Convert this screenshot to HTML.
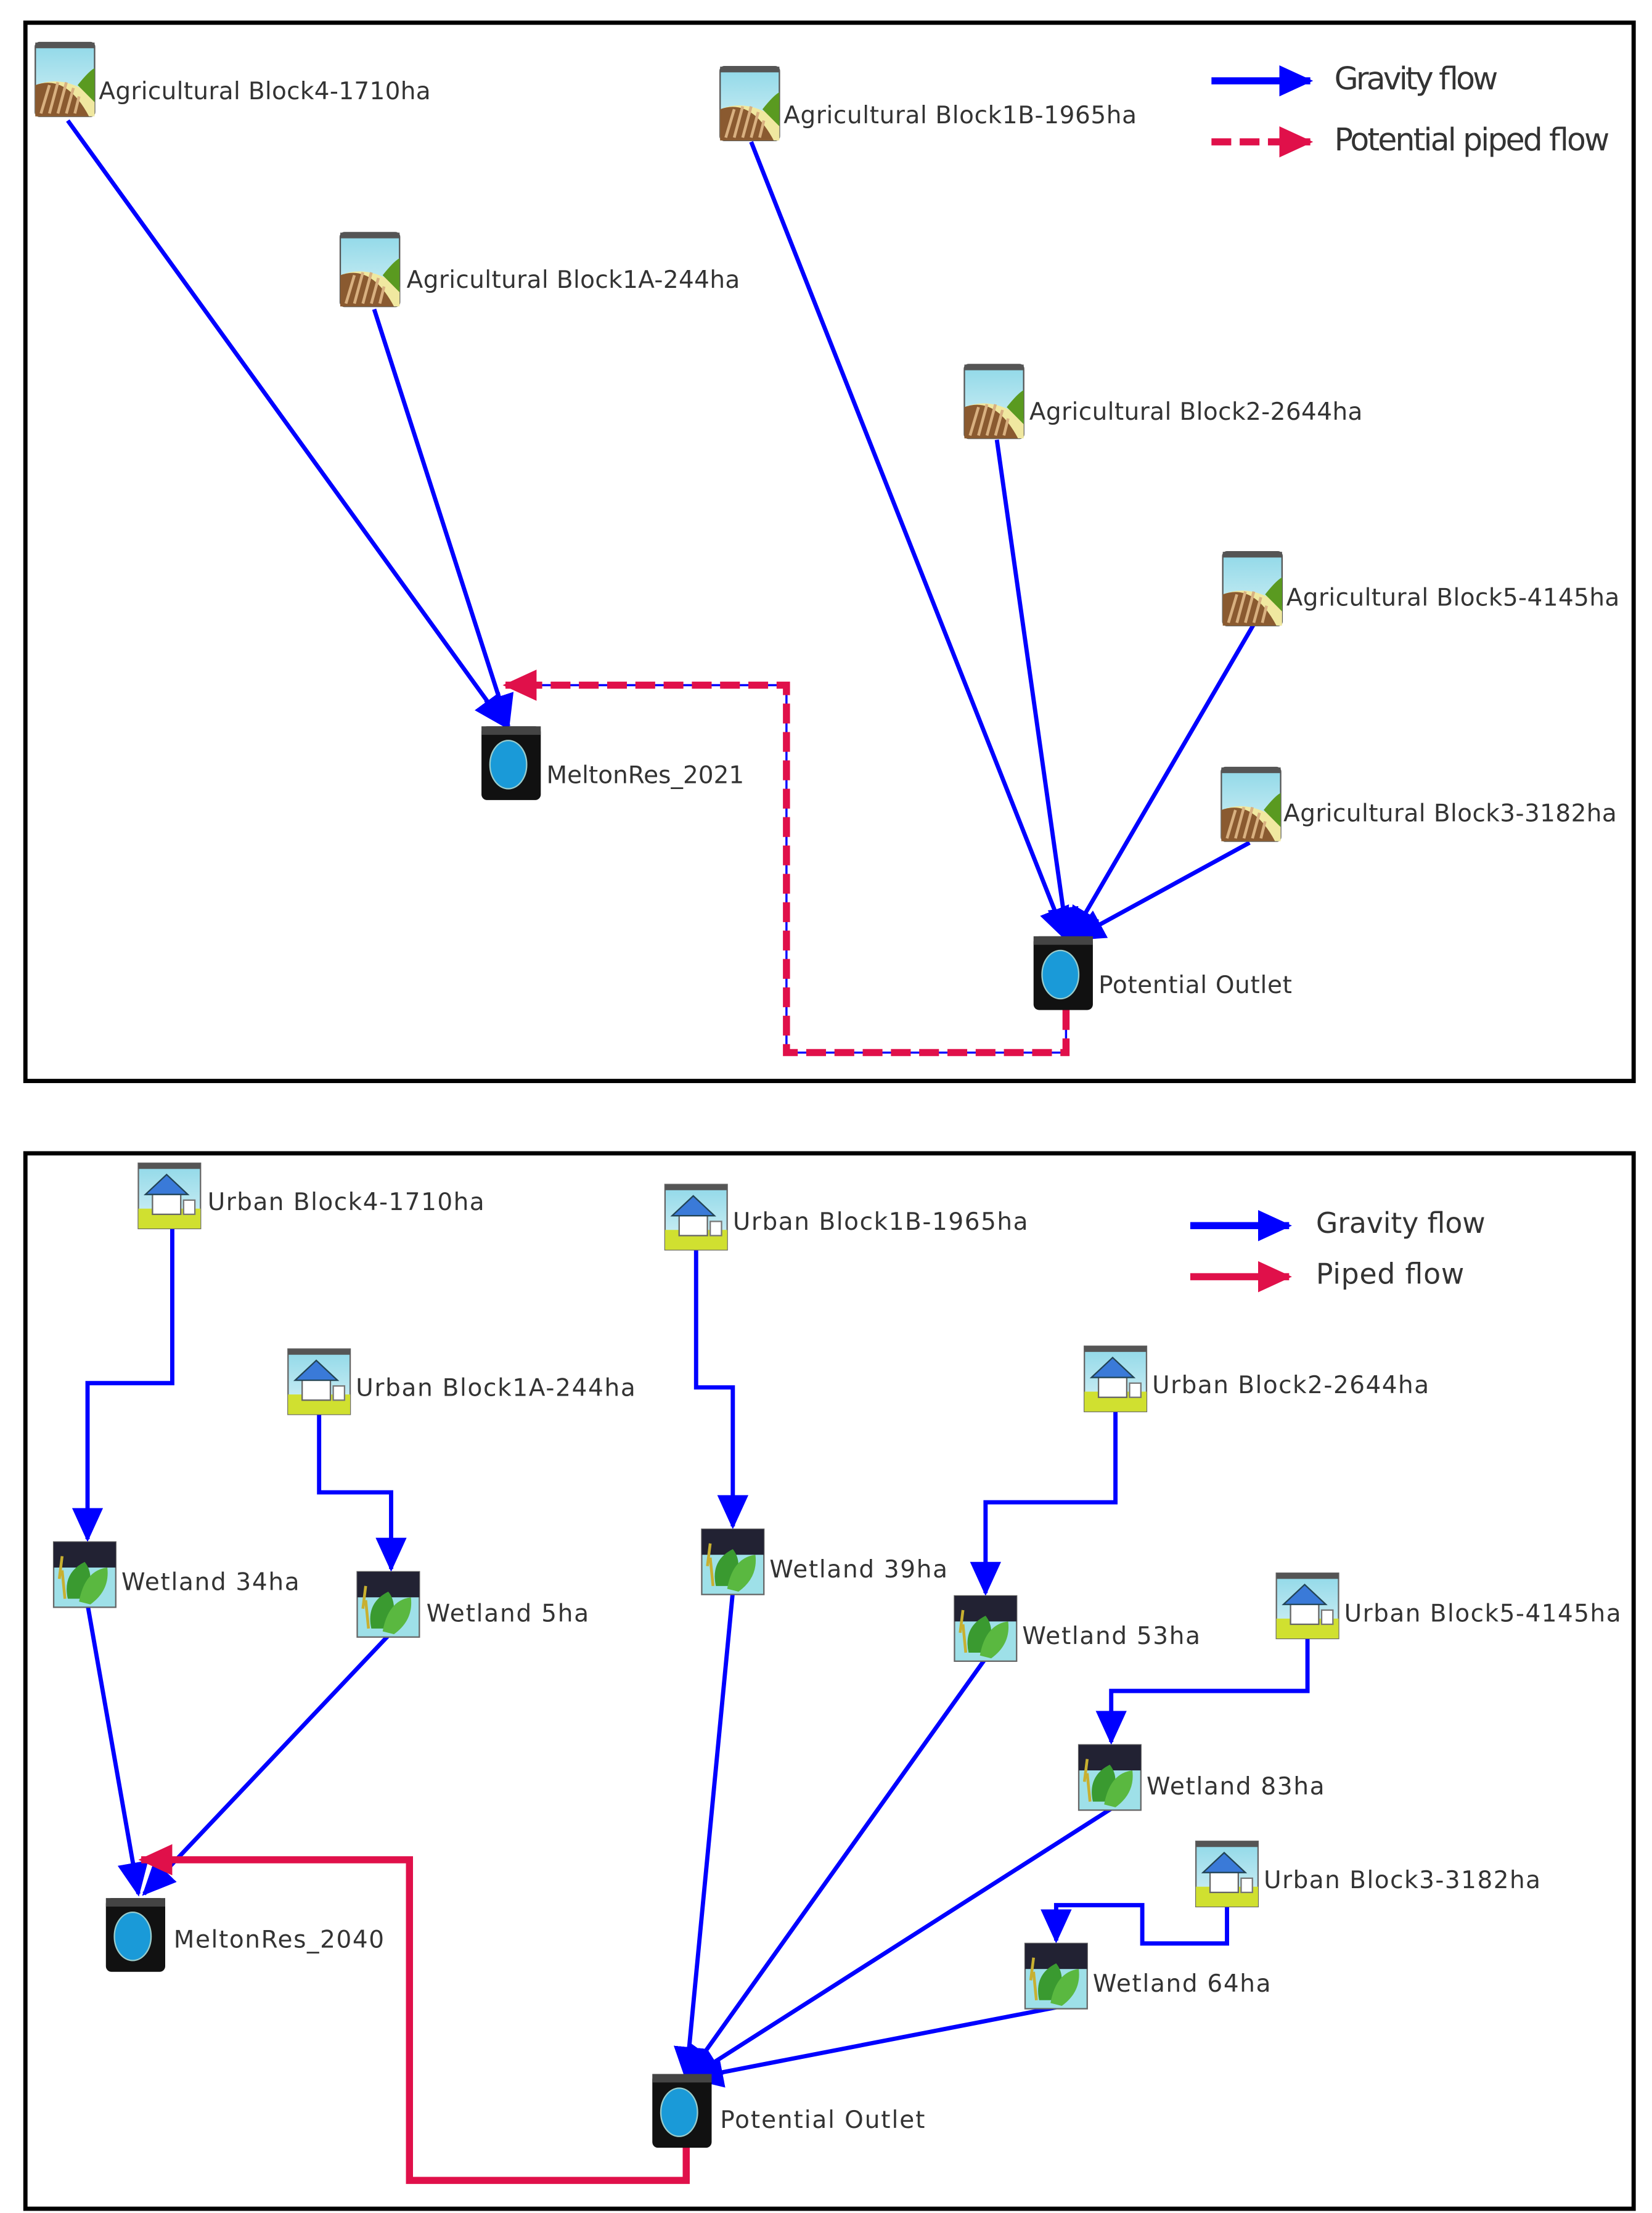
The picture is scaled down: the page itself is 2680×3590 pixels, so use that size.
<!DOCTYPE html>
<html><head><meta charset="utf-8"><style>html,body{margin:0;padding:0;background:#fff}svg{display:block}</style></head>
<body>
<svg width="2680" height="3590" viewBox="0 0 1170 1560" preserveAspectRatio="none" xmlns="http://www.w3.org/2000/svg">
<defs>
<marker id="ab" markerUnits="userSpaceOnUse" markerWidth="24" markerHeight="22" refX="22" refY="11" orient="auto"><path d="M0,0 L24,11 L0,22 z" fill="#0000ff"/></marker>
<marker id="ar" markerUnits="userSpaceOnUse" markerWidth="24" markerHeight="22" refX="22" refY="11" orient="auto"><path d="M0,0 L24,11 L0,22 z" fill="#e0104a"/></marker>
<linearGradient id="sky" x1="0" y1="0" x2="0" y2="1"><stop offset="0" stop-color="#8fd8e8"/><stop offset="1" stop-color="#d8f2f6"/></linearGradient>
<g id="agri">
<rect x="0" y="0" width="42" height="52" rx="3" fill="url(#sky)" stroke="#555" stroke-width="1"/>
<rect x="0" y="0" width="42" height="4" fill="#555"/>
<path d="M0,52 L0,30 Q20,22 42,38 L42,52 z" fill="#f0e8a0"/>
<path d="M30,30 Q38,20 42,18 L42,42 z" fill="#5a9a20"/>
<path d="M0,52 L0,30 Q22,22 38,52 z" fill="#8a5a30"/>
<path d="M4,50 L10,30 M10,50 L16,28 M16,50 L22,28 M22,50 L27,32 M28,50 L31,38" stroke="#d8b080" stroke-width="2"/>
</g>
<g id="res">
<rect x="0" y="0" width="42" height="52" rx="4" fill="#111"/>
<rect x="0" y="0" width="42" height="6" fill="#444"/>
<ellipse cx="19" cy="27" rx="13" ry="17" fill="#1a9ad8" stroke="#9cc" stroke-width="1"/>
</g>
<g id="urban">
<rect x="0" y="0" width="44" height="46" fill="url(#sky)" stroke="#666" stroke-width="1"/>
<rect x="0" y="0" width="44" height="4" fill="#555"/>
<rect x="0" y="32" width="44" height="14" fill="#d0e030"/>
<rect x="10" y="20" width="20" height="16" fill="#fff" stroke="#666"/>
<path d="M5,22 L20,8 L35,22 z" fill="#3a7ad8" stroke="#245" stroke-width="1"/>
<rect x="32" y="26" width="8" height="10" fill="#fff" stroke="#777"/>
</g>
<g id="wet">
<rect x="0" y="0" width="44" height="46" fill="#9ee0e8" stroke="#666" stroke-width="1"/>
<rect x="0" y="0" width="44" height="18" fill="#223"/>
<path d="M10,40 Q6,22 22,14 Q30,24 22,40 z" fill="#3a9a30"/>
<path d="M18,42 Q22,20 38,18 Q40,34 26,44 z" fill="#5ab840"/>
<path d="M6,20 L8,40 M4,26 L6,10" stroke="#c8b030" stroke-width="2"/>
</g>
</defs>
<rect width="1170" height="1560" fill="#fff"/>
<rect x="18" y="16" width="1139" height="746" fill="none" stroke="#000" stroke-width="3"/>
<rect x="18" y="813" width="1139" height="744" fill="none" stroke="#000" stroke-width="3"/>

<g stroke="#0000ff" stroke-width="3" fill="none">
<line x1="48" y1="85" x2="358" y2="512" marker-end="url(#ab)"/>
<line x1="265" y1="218" x2="360" y2="512" marker-end="url(#ab)"/>
<line x1="532" y1="100" x2="755" y2="662" marker-end="url(#ab)"/>
<line x1="706" y1="310" x2="756" y2="662" marker-end="url(#ab)"/>
<line x1="888" y1="440" x2="758" y2="662" marker-end="url(#ab)"/>
<line x1="885" y1="594" x2="760" y2="662" marker-end="url(#ab)"/>
<polyline points="755,712 755,742 557,742 557,483 372,483" stroke-width="1.5"/>
</g>
<polyline points="755,712 755,742 557,742 557,483 358,483" fill="none" stroke="#e0104a" stroke-width="5" stroke-dasharray="14,6" marker-end="url(#ar)"/>
<use href="#agri" x="25" y="30"/>
<use href="#agri" x="241" y="164"/>
<use href="#agri" x="510" y="47"/>
<use href="#agri" x="683" y="257"/>
<use href="#agri" x="866" y="389"/>
<use href="#agri" x="865" y="541"/>
<use href="#res" x="341" y="512"/>
<use href="#res" x="732" y="660"/>
<line x1="858" y1="57" x2="928" y2="57" stroke="#0000ff" stroke-width="5" marker-end="url(#ab)"/>
<line x1="858" y1="100" x2="928" y2="100" stroke="#e0104a" stroke-width="5" stroke-dasharray="14,6" marker-end="url(#ar)"/>

<g stroke="#0000ff" stroke-width="3" fill="none">
<polyline points="122,864 122,975 62,975 62,1085" marker-end="url(#ab)"/>
<polyline points="226,995 226,1052 277,1052 277,1106" marker-end="url(#ab)"/>
<polyline points="493,879 493,978 519,978 519,1076" marker-end="url(#ab)"/>
<polyline points="790,993 790,1059 698,1059 698,1123" marker-end="url(#ab)"/>
<polyline points="926,1153 926,1192 787,1192 787,1228" marker-end="url(#ab)"/>
<polyline points="869,1342 869,1370 809,1370 809,1343 748,1343 748,1368" marker-end="url(#ab)"/>
<line x1="62" y1="1131" x2="98" y2="1335" marker-end="url(#ab)"/>
<line x1="275" y1="1153" x2="102" y2="1335" marker-end="url(#ab)"/>
<line x1="519" y1="1122" x2="486" y2="1465" marker-end="url(#ab)"/>
<line x1="698" y1="1169" x2="486" y2="1465" marker-end="url(#ab)"/>
<line x1="787" y1="1275" x2="488" y2="1465" marker-end="url(#ab)"/>
<line x1="748" y1="1415" x2="490" y2="1465" marker-end="url(#ab)"/>
</g>
<polyline points="486,1510 486,1537 290,1537 290,1311 100,1311" fill="none" stroke="#e0104a" stroke-width="5" marker-end="url(#ar)"/>
<use href="#urban" x="98" y="820"/>
<use href="#urban" x="471" y="835"/>
<use href="#urban" x="204" y="951"/>
<use href="#urban" x="768" y="949"/>
<use href="#urban" x="904" y="1109"/>
<use href="#urban" x="847" y="1298"/>
<use href="#wet" x="38" y="1087"/>
<use href="#wet" x="253" y="1108"/>
<use href="#wet" x="497" y="1078"/>
<use href="#wet" x="676" y="1125"/>
<use href="#wet" x="764" y="1230"/>
<use href="#wet" x="726" y="1370"/>
<use href="#res" x="75" y="1338"/>
<use href="#res" x="462" y="1462"/>
<line x1="843" y1="864" x2="913" y2="864" stroke="#0000ff" stroke-width="5" marker-end="url(#ab)"/>
<line x1="843" y1="900" x2="913" y2="900" stroke="#e0104a" stroke-width="5" marker-end="url(#ar)"/>

<g font-family="'DejaVu Sans','Liberation Sans',sans-serif" font-size="17" fill="#333" transform="translate(0,-3)">
<text x="70" y="73" textLength="235">Agricultural  Block4-1710ha</text>
<text x="288" y="206" textLength="236">Agricultural  Block1A-244ha</text>
<text x="555" y="90" textLength="250">Agricultural  Block1B-1965ha</text>
<text x="729" y="299" textLength="236">Agricultural  Block2-2644ha</text>
<text x="911" y="430" textLength="236">Agricultural  Block5-4145ha</text>
<text x="909" y="582" textLength="236">Agricultural  Block3-3182ha</text>
<text x="387" y="555" textLength="140">MeltonRes_2021</text>
<text x="778" y="703" textLength="137">Potential  Outlet</text>
<text x="945" y="66" font-size="22" textLength="116">Gravity flow</text>
<text x="945" y="109" font-size="22" textLength="195">Potential piped flow</text>
<text x="147" y="856" textLength="196">Urban Block4-1710ha</text>
<text x="519" y="870" textLength="209">Urban Block1B-1965ha</text>
<text x="252" y="987" textLength="198">Urban Block1A-244ha</text>
<text x="816" y="985" textLength="196">Urban Block2-2644ha</text>
<text x="952" y="1146" textLength="196">Urban Block5-4145ha</text>
<text x="895" y="1334" textLength="196">Urban Block3-3182ha</text>
<text x="86" y="1124" textLength="126">Wetland 34ha</text>
<text x="302" y="1146" textLength="115">Wetland 5ha</text>
<text x="545" y="1115" textLength="126">Wetland 39ha</text>
<text x="724" y="1162" textLength="126">Wetland 53ha</text>
<text x="812" y="1268" textLength="126">Wetland 83ha</text>
<text x="774" y="1407" textLength="126">Wetland 64ha</text>
<text x="123" y="1376" textLength="149">MeltonRes_2040</text>
<text x="510" y="1503" textLength="145">Potential  Outlet</text>
<text x="932" y="872" font-size="20" textLength="120">Gravity flow</text>
<text x="932" y="908" font-size="20" textLength="105">Piped flow</text>
</g>
</svg>
</body></html>
